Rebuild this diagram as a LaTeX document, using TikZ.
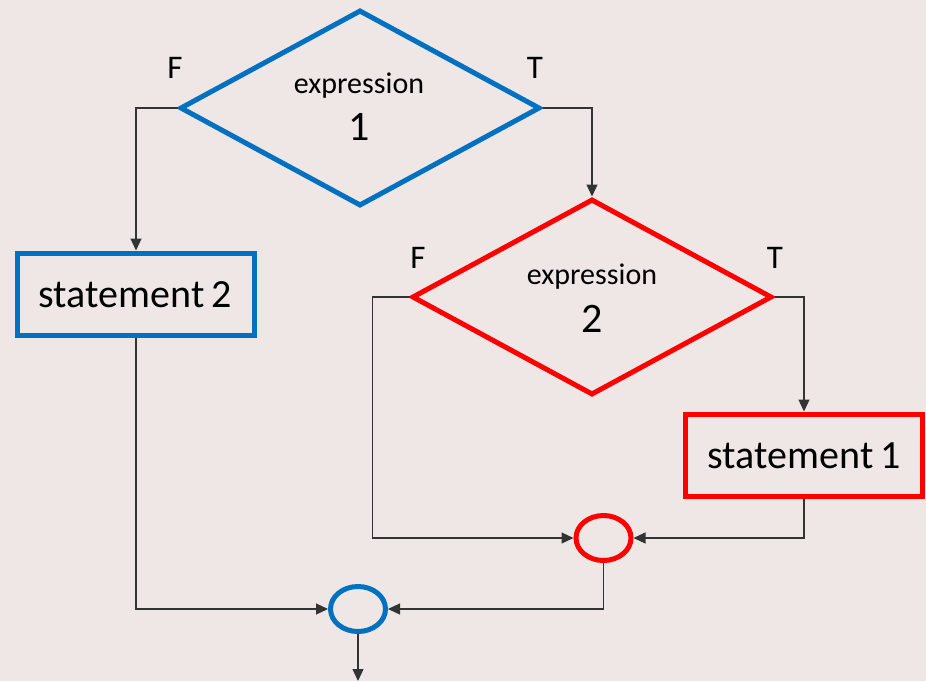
\documentclass[tikz,border=0pt]{standalone}
\usepackage{fontspec}
\setmainfont{Carlito}
\usetikzlibrary{shapes.geometric,arrows.meta}
\definecolor{bgc}{RGB}{238,231,229}
\definecolor{myblue}{RGB}{0,112,192}
\definecolor{myred}{RGB}{255,0,0}
\tikzset{
  dec/.style={shape=diamond, draw=#1, line width=5pt, minimum width=360pt, minimum height=196pt, inner sep=0pt, aspect=1},
  stbox/.style={shape=rectangle, draw=#1, line width=5pt, minimum width=237pt, minimum height=82pt, inner sep=0pt},
  junc/.style={shape=ellipse, draw=#1, line width=5pt, minimum width=55pt, minimum height=45pt, inner sep=0pt},
  conn/.style={draw=black!80, line width=1.2pt, -{Triangle[length=12pt,width=11pt]}},
  lbl/.style={font=\fontsize{33}{36}\selectfont, inner sep=0pt, anchor=base},
  etxt/.style={font=\fontsize{30}{34}\selectfont, inner sep=0pt, anchor=base},
  dtxt/.style={font=\fontsize{42}{46}\selectfont, inner sep=0pt, anchor=base},
  stxt/.style={font=\fontsize{40}{44}\selectfont, inner sep=0pt, anchor=base}
}
\begin{document}
\begin{tikzpicture}[x=1pt,y=-1pt]
\fill[bgc] (0,0) rectangle (926,681);
\useasboundingbox (0,0) rectangle (926,681);
% decisions
\node[dec=myblue] (d1) at (360,108) {};
\node[dec=myred] (d2) at (592,297) {};
\node[etxt] (e1) at (359,93) {expression};
\node[dtxt] (n1) at (359,140) {1};
\node[etxt] (e2) at (592,284) {expression};
\node[dtxt] (n2) at (592,332) {2};
% statements
\node[stbox=myblue] (s2) at (136,294) {};
\node[stxt] (t2) at (135,307) {statement\,2};
\node[stbox=myred] (s1) at (804,455) {};
\node[stxt] (t1) at (804,468) {statement\,1};
% junctions
\node[junc=myred] (rc) at (603.5,538) {};
\node[junc=myblue] (bc) at (358,609) {};
% labels
\node[lbl] (f1) at (175,78) {F};
\node[lbl] (tt1) at (535,78) {T};
\node[lbl] (f2) at (418,268) {F};
\node[lbl] (tt2) at (775,268) {T};
\coordinate (out) at (358,681);
% connectors
\draw[conn] (d1.west) -| (s2.north);
\draw[conn] (d1.east) -| (d2.north);
\draw[conn] (d2.west) -- ++(-37,0) |- (rc.west);
\draw[conn] (d2.east) -| (s1.north);
\draw[conn] (s1.south) |- (rc.east);
\draw[conn] (s2.south) |- (bc.west);
\draw[conn] (rc.south) |- (bc.east);
\draw[conn] (bc.south) -- (out);
\end{tikzpicture}
\end{document}
